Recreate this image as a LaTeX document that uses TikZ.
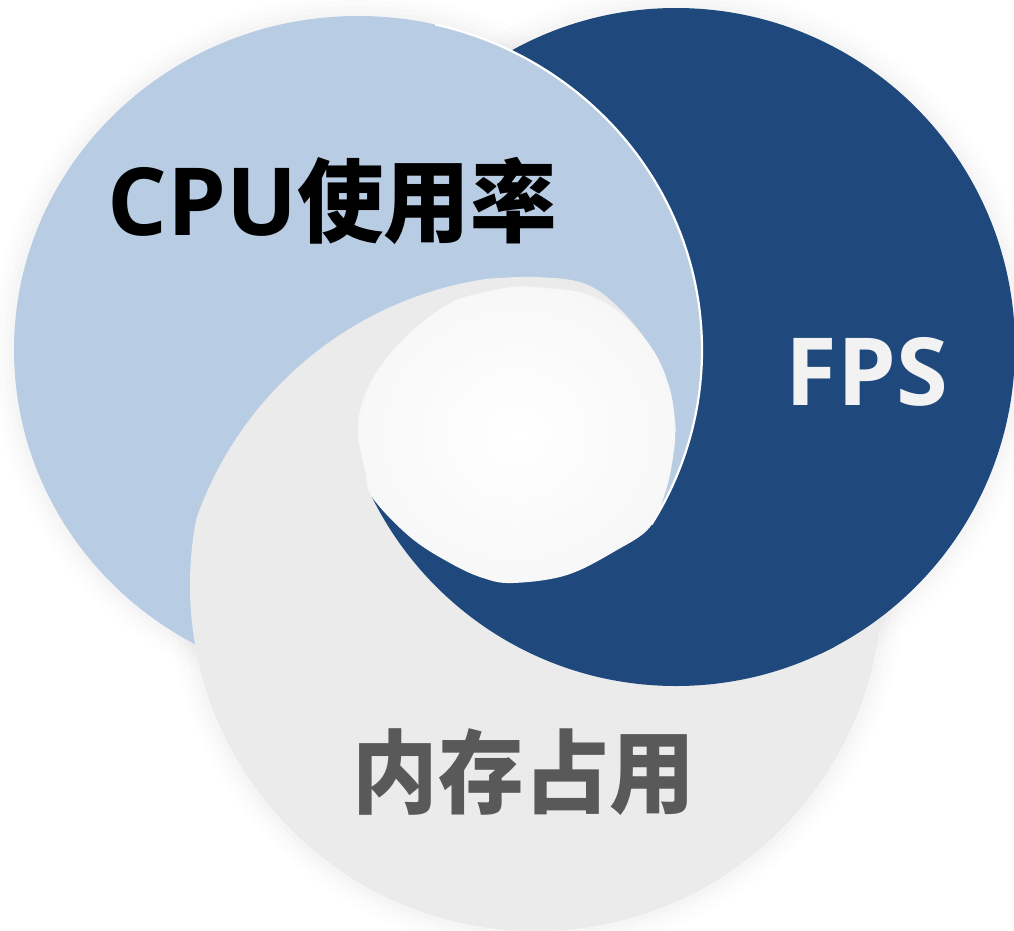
\documentclass[tikz,border=0pt]{standalone}
\usepackage{fontspec}
\newfontfamily\cjk{Noto Sans CJK SC}
\newfontfamily\latin{Open Sans}
\definecolor{lb}{HTML}{B8CDE4}
\definecolor{db}{HTML}{1F497D}
\definecolor{gr}{HTML}{EBEBEB}
\definecolor{txtgray}{HTML}{595959}
\definecolor{fpsw}{HTML}{F2F2F2}
\tikzset{
  lbl/.style={inner sep=0pt, anchor=center},
  seam/.style={draw=white, line width=2.2pt},
  halo/.style={draw=black, line cap=round}
}
\newcommand{\cjkbig}{\cjk\bfseries\fontsize{91}{91}\selectfont}
\newcommand{\latbig}{\latin\bfseries\fontsize{94}{94}\selectfont}
\begin{document}
\begin{tikzpicture}[x=1pt,y=-1pt]
\useasboundingbox (0,0) rectangle (1014,930);
\fill[white] (0,0) rectangle (1014,930);
% faint drop shadow around the rings
\foreach \w/\o in {44/0.006, 32/0.008, 20/0.010, 10/0.012}{
  \draw[halo, line width=\w pt, opacity=\o] (358,350) ellipse[x radius=344pt, y radius=334pt];
  \draw[halo, line width=\w pt, opacity=\o] (676,347) circle[radius=339pt];
  \draw[halo, line width=\w pt, opacity=\o] (536,585) circle[radius=346pt];
}
% base order: gray, dark blue, light blue
\begin{scope}
  \clip (540,639) circle[radius=364pt];
  \fill[gr] (536,585) circle[radius=346pt];
\end{scope}
\fill[db] (676,347) circle[radius=339pt];
\fill[lb] (358,350) ellipse[x radius=344pt, y radius=334pt];
% white seam between light blue and dark blue (upper right sector)
\begin{scope}
  \clip (516,435) -- (361,-350) -- (1700,-350) -- (1700,1155) -- (1604,1155) -- cycle;
  \draw[seam] (358,350) ellipse[x radius=344pt, y radius=334pt];
\end{scope}
% lower and left sectors: gray over light blue
\begin{scope}
  \clip (516,435) -- (1580,1200) -- (1580,1600) -- (-800,1600) -- (-800,-350) -- (361,-350) -- cycle;
  \clip (540,639) circle[radius=364pt];
  \fill[gr] (536,585) circle[radius=346pt];
\end{scope}
% lower sector: dark blue over gray
\begin{scope}
  \clip (516,435) -- (1604,1155) -- (1604,1600) -- (-800,1600) -- (-800,1002) -- cycle;
  \fill[db] (676,347) circle[radius=339pt];
\end{scope}
% gray rim at the top right of the hole
\fill[gr] plot[smooth, tension=0.6] coordinates {(485,279) (533,277) (583,283) (617,306) (650,346) (670,390) (676,432)} -- (600,440) -- (480,320) -- cycle;
% central hole
\shade[inner color=white, outer color=black!3] plot[smooth cycle, tension=0.6] coordinates {(513,287) (533,287) (583,293) (620,313) (653,350) (670,390) (675,430) (673,457) (666,490) (650,527) (617,550) (567,575) (513,583) (483,578) (450,563) (410,537) (372,497) (365,470) (358,433) (363,400) (380,367) (410,333) (450,303) (485,292)};
% labels
\node[lbl, text=black] (cpu) at (332,201) {\latbig CPU\cjkbig\scalebox{0.95}[1]{使用率}};
\node[lbl, text=fpsw] (fps) at (867,372) {\latbig FPS};
\node[lbl, text=txtgray] (mem) at (524,772) {\cjkbig\scalebox{0.94}[1]{内存占用}};
\end{tikzpicture}
\end{document}
